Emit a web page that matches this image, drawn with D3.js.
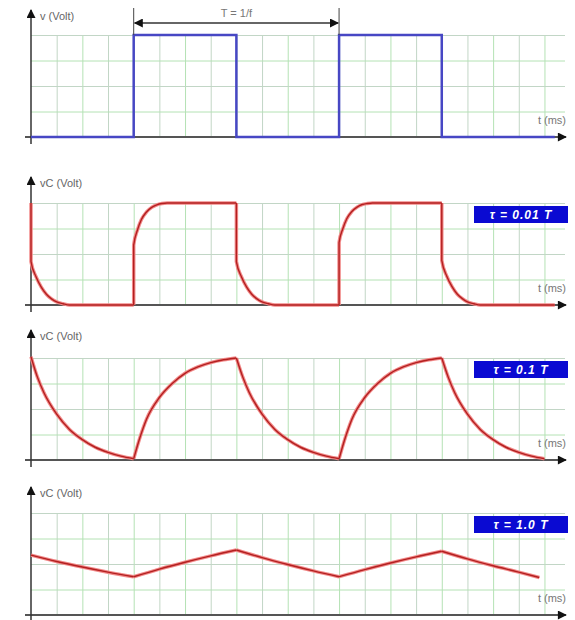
<!DOCTYPE html>
<html>
<head>
<meta charset="utf-8">
<script src="https://cdn.jsdelivr.net/npm/d3@7"></script>
<style>
  body { margin: 0; background: #fff; }
  svg { display: block; font-family: "Liberation Sans", Arial, sans-serif; }
</style>
</head>
<body>
<svg id="chart" width="575" height="620"></svg>
<script>
// input square wave, time in grid units (half period = 4), volts in grid units
const squareWave = [[0,0],[4,0],[4,4],[8,4],[8,0],[12,0],[12,4],[16,4],[16,0],[20.4,0]];

// capacitor voltage, one array per half period
const tau001 = [
  [[0,4],[0,1.7],[0.2,1.1],[0.4,0.7],[0.6,0.42],[0.8,0.24],[1.0,0.12],[1.25,0.05],[1.5,0],[4,0]],
  [[4,0],[4,2.35],[4.15,2.95],[4.3,3.35],[4.5,3.65],[4.7,3.83],[4.9,3.93],[5.1,3.98],[5.3,4],[8,4]],
  [[8,4],[8,1.7],[8.2,1.1],[8.4,0.7],[8.6,0.42],[8.8,0.24],[9.0,0.12],[9.25,0.05],[9.5,0],[12,0]],
  [[12,0],[12,2.45],[12.15,3.0],[12.3,3.38],[12.5,3.67],[12.7,3.84],[12.9,3.94],[13.1,3.98],[13.3,4],[16,4]],
  [[16,4],[16,1.75],[16.2,1.12],[16.4,0.72],[16.6,0.43],[16.8,0.25],[17.0,0.12],[17.25,0.05],[17.5,0],[20.4,0]]
];

const tau01 = [
  [[0,4.05],[0.25,3.25],[0.5,2.65],[1,1.8],[1.5,1.2],[2,0.8],[2.5,0.5],[3,0.3],[3.5,0.15],[4,0.05]],
  [[4,0.05],[4.25,0.9],[4.5,1.6],[5,2.45],[5.5,3.0],[6,3.4],[6.5,3.65],[7,3.82],[7.5,3.93],[8,4.0]],
  [[8,4.0],[8.25,3.25],[8.5,2.65],[9,1.8],[9.5,1.2],[10,0.8],[10.5,0.5],[11,0.3],[11.5,0.15],[12,0.05]],
  [[12,0.05],[12.25,0.9],[12.5,1.6],[13,2.45],[13.5,3.0],[14,3.4],[14.5,3.65],[15,3.82],[15.5,3.93],[16,4.0]],
  [[16,4.0],[16.25,3.25],[16.5,2.65],[17,1.8],[17.5,1.2],[18,0.8],[18.5,0.5],[19,0.3],[19.5,0.15],[20,0.05]]
];

const tau1 = [
  [[0,2.35],[1,2.1],[2,1.88],[3,1.68],[4,1.5]],
  [[4,1.5],[5,1.8],[6,2.07],[7,2.32],[8,2.55]],
  [[8,2.55],[9,2.25],[10,1.98],[11,1.73],[12,1.5]],
  [[12,1.5],[13,1.78],[14,2.04],[15,2.28],[16,2.5]],
  [[16,2.5],[17,2.2],[18,1.93],[19,1.68],[19.8,1.47]]
];

const yLabels = ["v (Volt)", "vC (Volt)", "vC (Volt)", "vC (Volt)"];
const tauLabels = [null, "τ = 0.01 T", "τ = 0.1 T", "τ = 1.0 T"];

const svg = d3.select('#chart');

const defs = svg.append('defs');
defs.append('marker')
    .attr('id', 'arrow')
    .attr('viewBox', '0 0 10 10')
    .attr('refX', 9).attr('refY', 5)
    .attr('markerWidth', 5).attr('markerHeight', 5)
    .attr('markerUnits', 'userSpaceOnUse')
    .attr('orient', 'auto-start-reverse')
    .append('path')
    .attr('d', 'M0,0 L10,5 L0,10 z')
    .attr('fill', '#111');
defs.select('marker').attr('markerWidth', 10).attr('markerHeight', 9);

const x = d3.scaleLinear().domain([0, 20.8]).range([31, 565]);

const panels = [
  {base: 137, top: 10, data: [squareWave], color: 'blue'},
  {base: 305, top: 177, data: tau001, color: 'red'},
  {base: 460, top: 330, data: tau01, color: 'red'},
  {base: 615, top: 487, data: tau1, color: 'red'}
];

panels.forEach((p, i) => {
    const y = d3.scaleLinear().domain([0, 4]).range([p.base, p.base - 102]);
    const g = svg.append('g');

    // graph paper
    const gx = g.append('g')
        .attr('transform', `translate(0,${p.base})`)
        .call(d3.axisBottom(x).tickValues(d3.range(1, 21)).tickSize(-102).tickFormat(''));
    gx.select('.domain').remove();
    gx.selectAll('.tick line')
        .attr('stroke', (d, j) => j % 2 ? '#b4e2b4' : '#c2d6c6')
        .attr('stroke-width', 1);

    const gy = g.append('g')
        .attr('transform', `translate(${x(0)},0)`)
        .call(d3.axisLeft(y).tickValues([1, 2, 3, 4]).tickSize(-(565 - x(0))).tickFormat(''));
    gy.select('.domain').remove();
    gy.selectAll('.tick line')
        .attr('stroke', (d, j) => j % 2 ? '#c2d6c6' : '#b4e2b4')
        .attr('stroke-width', 1);

    // axes
    g.append('line')
        .attr('x1', x(0) - 6).attr('x2', 566)
        .attr('y1', p.base).attr('y2', p.base)
        .attr('stroke', '#555').attr('stroke-width', 2)
        .attr('marker-end', 'url(#arrow)');
    g.append('line')
        .attr('x1', x(0)).attr('x2', x(0))
        .attr('y1', p.base + 7).attr('y2', p.top)
        .attr('stroke', '#333').attr('stroke-width', 1.5)
        .attr('marker-end', 'url(#arrow)');

    g.append('text')
        .attr('x', x(0) + 9).attr('y', p.top + 10)
        .attr('font-size', 11).attr('fill', '#666')
        .text(yLabels[i]);
    g.append('text')
        .attr('x', 566).attr('y', p.base - 13)
        .attr('text-anchor', 'end')
        .attr('font-size', 11).attr('fill', '#777')
        .text('t (ms)');

    const line = d3.line()
        .x(d => x(d[0]))
        .y(d => y(d[1]))
        .curve(p.color === 'blue' ? d3.curveLinear : d3.curveMonotoneX);

    if (p.color === 'blue') {
        g.selectAll('.wave')
            .data(p.data)
            .enter().append('path')
            .attr('d', line)
            .attr('fill', 'none')
            .attr('stroke', '#4747c4')
            .attr('stroke-width', 2.5);
    } else {
        g.selectAll('.halo')
            .data(p.data)
            .enter().append('path')
            .attr('d', line)
            .attr('fill', 'none')
            .attr('stroke', '#f28a8a')
            .attr('stroke-width', 3.5)
            .attr('stroke-linejoin', 'round');
        g.selectAll('.wave')
            .data(p.data)
            .enter().append('path')
            .attr('d', line)
            .attr('fill', 'none')
            .attr('stroke', '#b32020')
            .attr('stroke-width', 1.4)
            .attr('stroke-linejoin', 'round');
    }

    if (tauLabels[i]) {
        g.append('rect')
            .attr('x', 474).attr('y', p.base - 99)
            .attr('width', 94).attr('height', 17)
            .attr('fill', '#0a0ad2');
        g.append('text')
            .attr('x', 521).attr('y', p.base - 86)
            .attr('text-anchor', 'middle')
            .attr('font-size', 12).attr('font-style', 'italic').attr('font-weight', 'bold')
            .attr('fill', '#fff')
            .attr('letter-spacing', 1)
            .text(tauLabels[i]);
    }

    if (i === 0) {
        // period marker
        [4, 12].forEach(t => {
            g.append('line')
                .attr('x1', x(t)).attr('x2', x(t))
                .attr('y1', 8).attr('y2', y(4))
                .attr('stroke', '#444').attr('stroke-width', 1);
        });
        g.append('line')
            .attr('x1', x(4) + 1).attr('x2', x(12) - 1)
            .attr('y1', 23).attr('y2', 23)
            .attr('stroke', '#333').attr('stroke-width', 1.5)
            .attr('marker-start', 'url(#arrow)')
            .attr('marker-end', 'url(#arrow)');
        g.append('text')
            .attr('x', x(8)).attr('y', 17)
            .attr('text-anchor', 'middle')
            .attr('font-size', 11).attr('fill', '#777')
            .text('T = 1/f');
    }
});
</script>
</body>
</html>
